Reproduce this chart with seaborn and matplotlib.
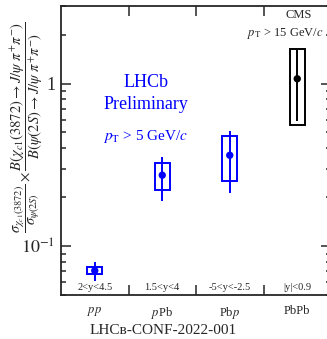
import numpy as np
import pandas as pd
import matplotlib
matplotlib.use('Agg')
import matplotlib.pyplot as plt
import matplotlib.ticker as mticker
import seaborn as sns

# values
systems = ['pp', 'pPb', 'Pbp', 'PbPb']
tick_labels = [r'$pp$', r'$p$Pb', r'Pb$p$', 'PbPb']
rapidity = ['2<y<4.5', '1.5<y<4', '-5<y<-2.5', '|y|<0.9']
experiment = ['LHCb', 'LHCb', 'LHCb', 'CMS']
ratio = [0.0706, 0.273, 0.362, 1.07]
stat_lo = [0.0612, 0.190, 0.211, 0.587]
stat_hi = [0.080, 0.353, 0.510, 1.62]
syst_lo = [0.0676, 0.220, 0.250, 0.555]
syst_hi = [0.0743, 0.326, 0.475, 1.62]

df = pd.DataFrame({'system': systems, 'ratio': ratio, 'experiment': experiment})
df['xpos'] = np.arange(len(systems)) + 0.5

sns.set_style('ticks')
plt.rcParams['font.family'] = ['Liberation Serif', 'DejaVu Serif']
plt.rcParams['mathtext.fontset'] = 'stix'

colors = {'LHCb': '#0000ff', 'CMS': 'black'}
col_list = [colors[e] for e in experiment]

fig = plt.figure(figsize=(3.27, 3.39), dpi=100)
ax = fig.add_axes([61/327, 44/339, 270/327, 289/339])

# systematic boxes
ax.bar(df['xpos'], np.array(syst_hi) - np.array(syst_lo), bottom=syst_lo, width=0.22,
       fill=False, edgecolor=col_list, linewidth=1.4, zorder=2)
# statistical bars
ax.vlines(df['xpos'], stat_lo, stat_hi, colors=col_list, linewidth=1.4, zorder=2)
# central values
sns.scatterplot(data=df, x='xpos', y='ratio', hue='experiment', palette=colors,
                s=28, edgecolor='none', legend=False, zorder=3, ax=ax)

ax.set_yscale('log')
ax.set_ylim(0.05, 3)
ax.set_xlim(0, 4)
ax.set_yticks([0.1, 1])
ax.set_yticklabels([r'$10^{-1}$', '1'], fontsize=13)
ax.yaxis.set_minor_locator(mticker.LogLocator(base=10, subs=np.arange(2, 10)))
ax.yaxis.set_minor_formatter(mticker.NullFormatter())

ax.set_xticks([1, 2, 3])
ax.set_xticklabels([])
ax.set_xticks(df['xpos'], minor=True)
ax.set_xticklabels(tick_labels, minor=True, fontsize=9)
ax.tick_params(axis='x', which='minor', length=0, pad=7)
ax.tick_params(which='both', direction='in', top=True, right=True, width=1.1)
ax.tick_params(which='major', length=7)
ax.tick_params(axis='y', which='minor', length=3.5)
ax.tick_params(axis='y', which='major', pad=4)
ax.set_xlabel('')
ax.set_ylabel('')
for s in ax.spines.values():
    s.set_linewidth(1.3)

# rapidity ranges along the bottom
for xp, r in zip(df['xpos'], rapidity):
    ax.text(xp, 0.012, r, transform=ax.get_xaxis_transform(), ha='center', va='bottom', fontsize=7.5)

ax.text(0.315, 0.735, 'LHCb', transform=ax.transAxes, ha='center', va='center', fontsize=13, color='#0000ff')
ax.text(0.315, 0.66, 'Preliminary', transform=ax.transAxes, ha='center', va='center', fontsize=13, color='#0000ff')
ax.text(0.315, 0.55, r'$p_{\mathrm{T}}$ > 5 GeV/$c$', transform=ax.transAxes, ha='center', va='center',
        fontsize=11, color='#0000ff')
ax.text(0.88, 0.968, 'CMS', transform=ax.transAxes, ha='center', va='center', fontsize=9)
ax.text(0.83, 0.905, r'$p_{\mathrm{T}}$ > 15 GeV/$c$', transform=ax.transAxes, ha='center', va='center', fontsize=9)

fig.text(27/327, 0.625,
         r'$\dfrac{\sigma_{\chi_{c1}(3872)}}{\sigma_{\psi(2S)}}\times'
         r'\dfrac{B(\chi_{c1}(3872)\to J/\psi\ \pi^{+}\pi^{-})}{B(\psi(2S)\to J/\psi\ \pi^{+}\pi^{-})}$',
         rotation=90, ha='center', va='center', fontsize=10.5)

fig.text(0.5, 9/339, 'LHC\u0299-CONF-2022-001', ha='center', va='center', fontsize=11)

fig.savefig('out.png', dpi=100)
